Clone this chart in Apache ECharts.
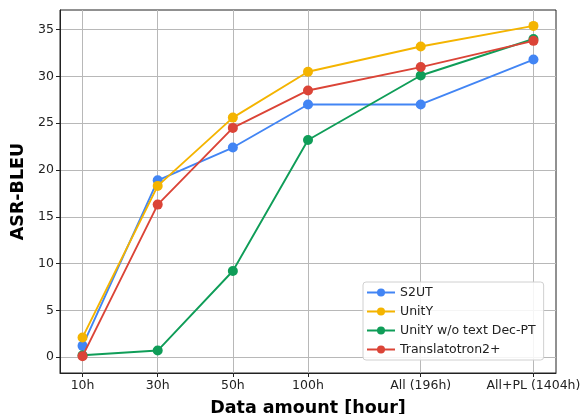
<!DOCTYPE html>
<html><head><meta charset="utf-8">
<script src="https://cdn.jsdelivr.net/npm/echarts@6/dist/echarts.min.js"></script>
<style>html,body{margin:0;padding:0;background:#fff}#c{width:582px;height:414px}</style>
</head><body><div id="c"></div>
<script>
const categories = ['10h','30h','50h','100h','All (196h)','All+PL (1404h)'];
const xPositions = [0,1,2,3,4.5,6];
const yTicks = [0,5,10,15,20,25,30,35];
const s2ut = [1.2,18.9,22.4,27.0,27.0,31.8];
const unity = [2.1,18.3,25.6,30.5,33.2,35.4];
const unityNoDec = [0.2,0.7,9.2,23.2,30.1,34.0];
const translatotron = [0.1,16.3,24.5,28.5,31.0,33.8];
const names = ['S2UT','UnitY','UnitY w/o text Dec-PT','Translatotron2+'];
const colors = ['#4285F4','#F4B400','#0F9D58','#DB4437'];
const allData = [s2ut, unity, unityNoDec, translatotron];

const font = 'DejaVu Sans';
const chart = echarts.init(document.getElementById('c'));
chart.setOption({
  animation:false,
  grid:{left:60,top:10,right:26,bottom:41,outerBoundsMode:'none',containLabel:false,show:true,borderColor:'#222',borderWidth:1,backgroundColor:'transparent'},
  xAxis:{type:'value',min:-0.3,max:6.3,
    name:'Data amount [hour]',nameLocation:'middle',nameGap:26,
    nameTextStyle:{fontFamily:font,fontWeight:'bold',fontSize:17.5,color:'#000'},
    axisLine:{show:true,onZero:false,lineStyle:{color:'#222',width:1}},
    axisTick:{show:true,length:4,customValues:xPositions,lineStyle:{color:'#222'}},
    axisLabel:{customValues:xPositions,fontFamily:font,fontSize:12.5,color:'#222',margin:6,
      formatter:function(v){const i=xPositions.indexOf(v);return i>=0?categories[i]:'';}},
    splitLine:{show:true,lineStyle:{color:'#b8b8b8',width:1}}
  },
  yAxis:{type:'value',min:-1.7,max:37.1,
    name:'ASR-BLEU',nameLocation:'middle',nameGap:31,
    nameTextStyle:{fontFamily:font,fontWeight:'bold',fontSize:17.5,color:'#000'},
    axisLine:{show:true,onZero:false,lineStyle:{color:'#222',width:1}},
    axisTick:{show:true,length:4,customValues:yTicks,lineStyle:{color:'#222'}},
    axisLabel:{customValues:yTicks,fontFamily:font,fontSize:12.5,color:'#222',margin:6},
    splitLine:{show:true,lineStyle:{color:'#b8b8b8',width:1}}
  },
  legend:{left:363,top:282,orient:'vertical',data:names,
    backgroundColor:'rgba(255,255,255,0.85)',borderColor:'#d0d0d0',borderWidth:1,borderRadius:3,
    padding:[4,8,4,3],itemWidth:28,itemHeight:10,itemGap:6,
    textStyle:{fontFamily:font,fontSize:12.5,color:'#222'}},
  series: names.map((n,i)=>({
    name:n,type:'line',symbol:'circle',symbolSize:10,
    data: allData[i].map((v,j)=>[xPositions[j],v]),
    lineStyle:{color:colors[i],width:1.9},itemStyle:{color:colors[i]},z:2+i
  }))
});
</script></body></html>
